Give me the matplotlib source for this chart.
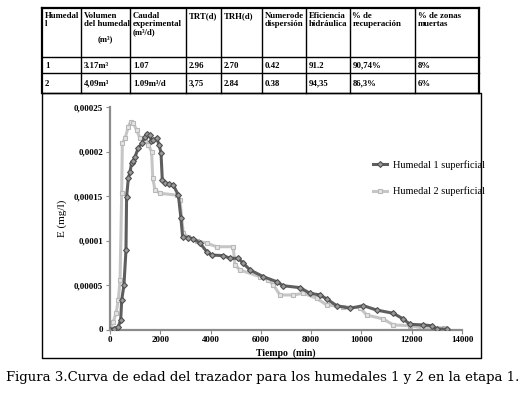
"""
Figura 3 — tracer age curve (E vs time) for wetlands 1 and 2, with the
summary table drawn above the chart and the caption below.
"""

import matplotlib
matplotlib.use("Agg")
import matplotlib.pyplot as plt
from matplotlib.ticker import FixedLocator, FixedFormatter

# ---- table data ---------------------------------------------------------
table_header = ["Humedal\nl", "Volumen\ndel humedal\n(m³)", "Caudal\nexperimental\n(m³/d)",
                "TRT(d)", "TRH(d)", "Numerode\ndispersión", "Eficiencia\nhidráulica",
                "% de\nrecuperación", "% de zonas\nmuertas"]
table_row1 = ["1", "3.17m³", "1.07", "2.96", "2.70", "0.42", "91.2", "90,74%", "8%"]
table_row2 = ["2", "4,09m³", "1.09m³/d", "3,75", "2.84", "0.38", "94,35", "86,3%", "6%"]

# ---- curve data ---------------------------------------------------------
t_h1 = [0, 150, 330, 425, 465, 555, 635, 660, 730, 795, 860, 925, 995, 1125, 1260,
        1380, 1460, 1590, 1650, 1725, 1855, 1960, 2030, 2080, 2190, 2350, 2520,
        2720, 2820, 2890, 3100, 3320, 3580, 3845, 4040, 4510, 4770, 5100, 5300,
        5570, 6100, 6630, 6890, 7560, 7950, 8350, 8620, 9015, 9545, 10075, 10600,
        11270, 11665, 11930, 12460, 12790, 13000, 13390]
e_h1 = [0, 0.000001, 0.000003, 0.0000107, 0.000033, 0.00005, 0.000089, 0.000149,
        0.00017, 0.000177, 0.000187, 0.000189, 0.000194, 0.000204, 0.000209,
        0.000216, 0.00022, 0.000218, 0.000212, 0.000213, 0.000215, 0.000207,
        0.000198, 0.000168, 0.000165, 0.000163, 0.000162, 0.000151, 0.000125,
        0.000104, 0.000103, 0.000102, 0.000097, 0.0000875, 0.0000837, 0.000083,
        0.00008, 0.00008, 0.0000744, 0.0000669, 0.0000593, 0.0000537, 0.0000492,
        0.000047, 0.0000407, 0.0000388, 0.0000343, 0.0000268, 0.0000238,
        0.0000268, 0.0000219, 0.0000182, 0.0000118, 0.0000058, 0.0000051,
        0.0000043, 0.0000005, 0.0000005]

t_h2 = [0, 130, 240, 330, 400, 465, 490, 600, 730, 820, 925, 1060, 1190, 1390,
        1525, 1655, 1700, 1790, 1990, 2650, 2780, 2915, 3110, 3450, 3845, 4240,
        4900, 4970, 5170, 5965, 6300, 6500, 6760, 7290, 7690, 8220, 8620, 9280,
        9940, 10210, 10870, 11270, 11930, 12400, 13300]
e_h2 = [0, 0.0000088, 0.000018, 0.000033, 0.0000556, 0.000153, 0.000209,
        0.000215, 0.000228, 0.000233, 0.000232, 0.000224, 0.000215, 0.000213,
        0.000207, 0.0002, 0.00017, 0.000157, 0.000153, 0.000151, 0.000146,
        0.000108, 0.000104, 0.0001, 0.000097, 0.000093, 0.000093, 0.0000725,
        0.0000669, 0.0000593, 0.0000556, 0.00005, 0.0000388, 0.0000388,
        0.0000407, 0.000035, 0.0000275, 0.0000256, 0.0000245, 0.0000163,
        0.0000118, 0.0000051, 0.0000043, 0.000002, 0.000002]

x_ticks = [0, 2000, 4000, 6000, 8000, 10000, 12000, 14000]
y_ticks = [0, 0.00005, 0.0001, 0.00015, 0.0002, 0.00025]
y_tick_labels = ["0", "0,00005", "0,0001", "0,00015", "0,0002", "0,00025"]

W, H = 525, 393
SERIF = ["Liberation Serif", "DejaVu Serif"]

fig = plt.figure(figsize=(W / 100, H / 100), dpi=100)
fig.patch.set_facecolor("white")

# overlay in pixel coordinates for the table, chart frame and caption
ov = fig.add_axes([0, 0, 1, 1])
ov.set_xlim(0, W)
ov.set_ylim(H, 0)
ov.axis("off")

col_x = [42, 81, 130, 186, 221, 262, 306, 350, 415, 479]
row_y = [8, 57, 73, 93]
for x in col_x:
    lw = 1.6 if x in (col_x[0], col_x[-1]) else 1.0
    ov.plot([x, x], [row_y[0], row_y[-1]], color="black", lw=lw)
for y in row_y:
    lw = 1.6 if y == row_y[0] else 1.0
    ov.plot([col_x[0], col_x[-1]], [y, y], color="black", lw=lw)

FS_TAB = 6.3
for i, txt in enumerate(table_header):
    xx = col_x[i] + 2.5
    if i == 1:
        # the (m3) of the volume header is centred
        lines = txt.split("\n")
        ov.text(xx, 12, "\n".join(lines[:2]), ha="left", va="top", fontsize=FS_TAB,
                fontweight="bold", family=SERIF, linespacing=1.0)
        ov.text((col_x[1] + col_x[2]) / 2, 35, lines[2], ha="center", va="top",
                fontsize=FS_TAB, fontweight="bold", family=SERIF)
        continue
    ov.text(xx, 12, txt, ha="left", va="top", fontsize=FS_TAB, fontweight="bold",
            family=SERIF, linespacing=1.0)
for row, yy in ((table_row1, 65.5), (table_row2, 83.5)):
    for i, txt in enumerate(row):
        ov.text(col_x[i] + 3, yy, txt, ha="left", va="center", fontsize=FS_TAB,
                fontweight="bold", family=SERIF)

# chart frame
ov.plot([42, 481, 481, 42, 42], [93, 93, 358, 358, 93], color="black", lw=1.0)

ov.text(262.5, 378, "Figura 3.Curva de edad del trazador para los humedales 1 y 2 en la etapa 1.",
        ha="center", va="center", fontsize=9.5, family=["DejaVu Serif"])

# ---- chart --------------------------------------------------------------
ax = fig.add_axes([110 / W, 1 - 329.5 / H, 352 / W, 222.5 / H])
ax.set_xlim(0, 14000)
ax.set_ylim(0, 0.00025)

ax.plot(t_h1, e_h1, color="#5e5e5e", lw=2.2, marker="D", ms=3.0,
        mfc="#9a9a9a", mec="#4e4e4e", mew=0.8, label="Humedal 1 superficial", zorder=3)
ax.plot(t_h2, e_h2, color="#c6c6c6", lw=2.2, marker="s", ms=3.2,
        mfc="#e4e4e4", mec="#b8b8b8", mew=0.8, label="Humedal 2 superficial", zorder=2)

for s in ("top", "right"):
    ax.spines[s].set_visible(False)
for s in ("left", "bottom"):
    ax.spines[s].set_color("#8c8c8c")
    ax.spines[s].set_linewidth(1.6)

ax.xaxis.set_major_locator(FixedLocator(x_ticks))
ax.yaxis.set_major_locator(FixedLocator(y_ticks))
ax.yaxis.set_major_formatter(FixedFormatter(y_tick_labels))
ax.tick_params(axis="both", direction="out", length=3, width=0.8, color="#8c8c8c",
               labelsize=6.5, pad=2)
for lab in ax.get_xticklabels() + ax.get_yticklabels():
    lab.set_fontweight("bold")
    lab.set_family(SERIF)

ax.set_xlabel("Tiempo  (min)", fontsize=7, fontweight="bold", family=SERIF, labelpad=3)
ax.set_ylabel("E (mg/l)", fontsize=8, family=SERIF, labelpad=5)

ax.legend(loc="center left", bbox_to_anchor=(0.72, 0.68), frameon=False,
          handlelength=1.4, handletextpad=0.5, labelspacing=1.6,
          prop={"family": SERIF, "size": 7.5})

fig.savefig("out.png", dpi=100)
